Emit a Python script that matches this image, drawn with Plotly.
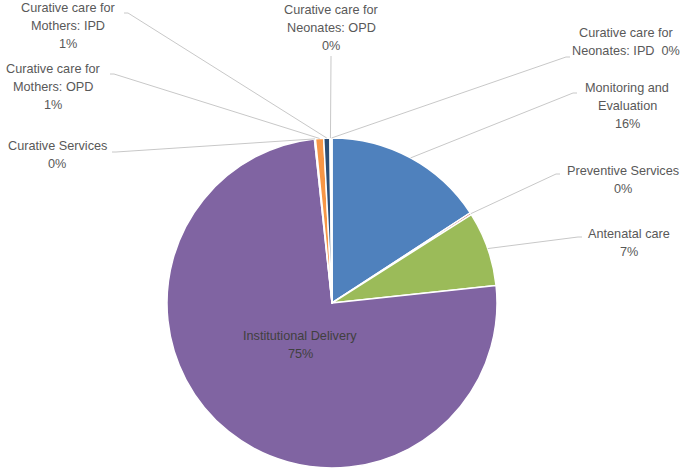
import math
import plotly.graph_objects as go

# ---- data ----
categories = [
    "Monitoring and Evaluation",
    "Preventive Services",
    "Antenatal care",
    "Institutional Delivery",
    "Curative Services",
    "Curative care for Mothers: OPD",
    "Curative care for Mothers: IPD",
    "Curative care for Neonates: OPD",
    "Curative care for Neonates: IPD",
]
values = [15.8, 0.2, 7.3, 75.0, 0.1, 0.8, 0.6, 0.1, 0.1]
display_names = [
    "Monitoring and<br>Evaluation",
    "Preventive Services",
    "Antenatal care",
    "Institutional Delivery",
    "Curative Services",
    "Curative care for<br>Mothers: OPD",
    "Curative care for<br>Mothers: IPD",
    "Curative care for<br>Neonates: OPD",
    "Curative care for<br>Neonates: IPD",
]
colors = ["#4F81BD", "#C0504D", "#9BBB59", "#8064A2", "#4BACC6",
          "#F79646", "#2C4D75", "#772C2A", "#5F7530"]

# ---- layout geometry (pixels) ----
W, H = 685, 470
CX, CY, R = 332, 303, 165
LINE_H = 18

# label block centre, leader start, elbow
label_layout = {
    0: dict(c=(627, 106), s=(577, 93), e=(573, 93)),
    1: dict(c=(623, 180), s=(560, 174), e=(556, 174)),
    2: dict(c=(629, 243), s=(582, 237), e=(578, 237)),
    3: dict(c=(300, 345)),
    4: dict(c=(57, 155), s=(112, 152), e=(116, 152)),
    5: dict(c=(53, 87), s=(110, 74), e=(114, 74)),
    6: dict(c=(68, 26), s=(124, 13), e=(128, 13)),
    7: dict(c=(331, 28), s=(331, 56), e=(331, 58)),
    8: dict(c=(626, 42), s=(570, 57), e=(566, 57)),
}


def px(x, y):
    return x / W, 1 - y / H


total = sum(values)
pcts = [f"{round(v / total * 100)}%" for v in values]

# anchor points at slice outer edge mid-angle (clockwise from 12 o'clock)
anchors = []
cum = 0
for v in values:
    mid = (cum + v / 2) / total * 2 * math.pi
    anchors.append((CX + R * math.sin(mid), CY - R * math.cos(mid)))
    cum += v

fig = go.Figure(go.Pie(
    labels=categories,
    values=values,
    sort=False,
    direction="clockwise",
    rotation=0,
    marker=dict(colors=colors, line=dict(color="white", width=1.5)),
    textinfo="none",
    hoverinfo="label+percent",
    showlegend=False,
    domain=dict(x=[(CX - R) / W, (CX + R) / W], y=[(H - CY - R) / H, (H - CY + R) / H]),
))

annotations = []
shapes = []
font = dict(family="Liberation Sans", size=12.7, color="#595959")
for i, name in enumerate(display_names):
    lay = label_layout[i]
    if i == 8:
        lines = name.split("<br>")
        lines[-1] = lines[-1] + "&nbsp;&nbsp;" + pcts[i]
    else:
        lines = name.split("<br>") + [pcts[i]]
    f = dict(font)
    if i == 3:
        f["color"] = "#404040"
    n = len(lines)
    for k, line in enumerate(lines):
        ly = lay["c"][1] + (k - (n - 1) / 2) * LINE_H
        cx, cy = px(lay["c"][0], ly)
        annotations.append(dict(x=cx, y=cy, xref="paper", yref="paper", text=line,
                                showarrow=False, xanchor="center", yanchor="middle",
                                align="center", font=f))
    if "s" in lay:
        sx, sy = px(*lay["s"])
        ex, ey = px(*lay["e"])
        ax, ay = px(*anchors[i])
        shapes.append(dict(type="path", xref="paper", yref="paper",
                           path=f"M {sx} {sy} L {ex} {ey} L {ax} {ay}",
                           line=dict(color="#C8C8C8", width=1)))

fig.update_layout(
    width=W, height=H,
    margin=dict(l=0, r=0, t=0, b=0),
    paper_bgcolor="white",
    plot_bgcolor="white",
    annotations=annotations,
    shapes=shapes,
)

fig.write_html("out.html", config={"displayModeBar": False},
               post_script="document.body.style.margin='0';")
